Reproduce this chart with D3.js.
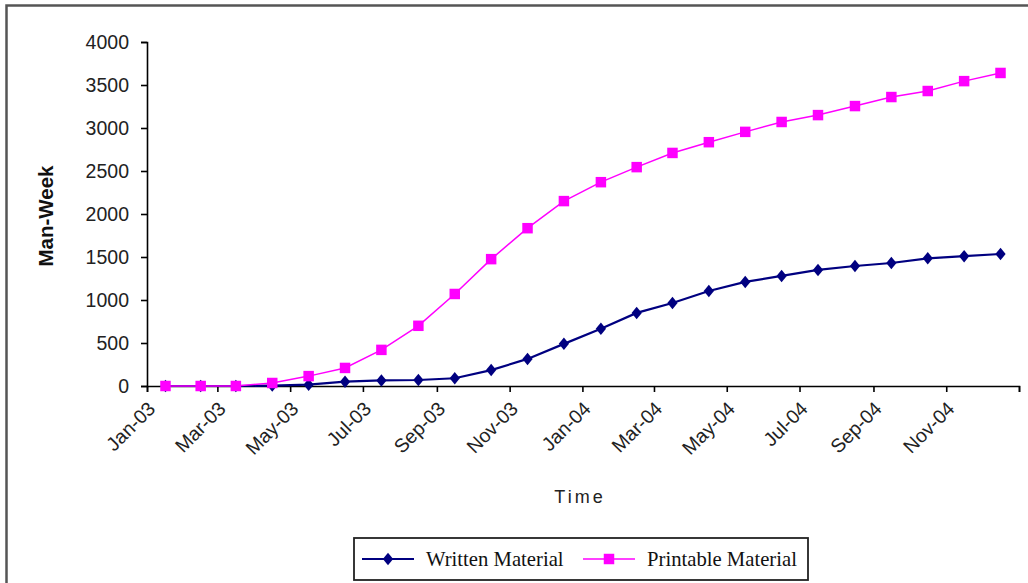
<!DOCTYPE html>
<html>
<head>
<meta charset="utf-8">
<script src="https://cdn.jsdelivr.net/npm/d3@7"></script>
<style>
  html, body { margin: 0; padding: 0; background: #fff; }
  svg { display: block; }
</style>
</head>
<body>
<svg id="chart" width="1028" height="583"></svg>
<script>
// Monthly cumulative effort, Jan 2003 – Dec 2004
const months = [
  "2003-01","2003-02","2003-03","2003-04","2003-05","2003-06",
  "2003-07","2003-08","2003-09","2003-10","2003-11","2003-12",
  "2004-01","2004-02","2004-03","2004-04","2004-05","2004-06",
  "2004-07","2004-08","2004-09","2004-10","2004-11","2004-12"
];
const writtenMaterial = [
  0, 0, 0, 5, 15, 50, 65, 70, 90, 185, 315, 490,
  665, 850, 965, 1105, 1210, 1280, 1350, 1395, 1430, 1485, 1510, 1535
];
const printableMaterial = [
  0, 0, 0, 35, 115, 210, 420, 700, 1070, 1475, 1835, 2150,
  2370, 2545, 2710, 2835, 2955, 3070, 3150, 3255, 3360, 3430, 3545, 3640
];
const yTicks = [0, 500, 1000, 1500, 2000, 2500, 3000, 3500, 4000];
const seriesNames = ["Written Material", "Printable Material"];

const svg = d3.select("#chart");
const parseMonth = d3.utcParse("%Y-%m");
const monthStarts = months.map(parseMonth);
// each point sits in the middle of its month
const midMonth = d => new Date((d.getTime() + d3.utcMonth.offset(d, 1).getTime()) / 2);

const x = d3.scaleUtc()
  .domain([monthStarts[0], d3.utcMonth.offset(monthStarts[monthStarts.length - 1], 1)])
  .range([147, 1019]);
const y = d3.scaleLinear().domain([0, 4000]).range([386, 42]);

// outer frame
svg.append("rect")
  .attr("x", 6.5).attr("y", 5.5)
  .attr("width", 1040).attr("height", 600)
  .attr("fill", "none").attr("stroke", "#555").attr("stroke-width", 2.5);

const axisFont = "'Liberation Sans', Arial, sans-serif";

// y axis
const yAxis = svg.append("g")
  .attr("transform", `translate(${x.range()[0]},0)`)
  .call(d3.axisLeft(y).tickValues(yTicks).tickSize(6).tickPadding(12).tickFormat(d3.format("d")));
yAxis.select(".domain").attr("stroke", "#000").attr("stroke-width", 1.6);
yAxis.selectAll(".tick line").attr("stroke", "#000").attr("stroke-width", 1.6);
yAxis.selectAll(".tick text")
  .attr("font-family", axisFont).attr("font-size", 19.5).attr("fill", "#222");

// x axis (date axis, labels every two months)
const xAxis = svg.append("g")
  .attr("transform", `translate(0,${y(0)})`)
  .call(d3.axisBottom(x).ticks(d3.utcMonth.every(2)).tickSize(6).tickFormat(d3.utcFormat("%b-%y")));
xAxis.select(".domain").attr("stroke", "#000").attr("stroke-width", 1.6);
xAxis.selectAll(".tick line").attr("stroke", "#000").attr("stroke-width", 1.6);
xAxis.selectAll(".tick text")
  .attr("font-family", axisFont).attr("font-size", 19.5).attr("fill", "#222")
  .attr("text-anchor", "end")
  .attr("x", 0).attr("y", 0).attr("dy", 0)
  .attr("transform", "translate(9,24) rotate(-45)")
  .filter(d => d >= x.domain()[1]).remove();

// axis titles
svg.append("text")
  .attr("transform", "translate(53,216) rotate(-90)")
  .attr("text-anchor", "middle")
  .attr("font-family", axisFont).attr("font-weight", "bold").attr("font-size", 20.5)
  .attr("fill", "#111")
  .text("Man-Week");
svg.append("text")
  .attr("x", 580).attr("y", 503)
  .attr("text-anchor", "middle")
  .attr("font-family", axisFont).attr("font-size", 18).attr("letter-spacing", 3)
  .attr("fill", "#222")
  .text("Time");

const series = [
  { name: seriesNames[0], values: writtenMaterial, color: "#000080", width: 2.2,
    symbol: d3.symbol().type(d3.symbolDiamond2).size(100), sx: 0.82 },
  { name: seriesNames[1], values: printableMaterial, color: "#FF00FF", width: 1.5,
    symbol: d3.symbol().type(d3.symbolSquare).size(110), sx: 1 }
];

const line = d3.line()
  .x((d, i) => x(midMonth(monthStarts[i])))
  .y(d => y(d));

series.forEach(s => {
  const g = svg.append("g");
  g.append("path")
    .datum(s.values)
    .attr("d", line)
    .attr("fill", "none")
    .attr("stroke", s.color)
    .attr("stroke-width", s.width);
  g.selectAll("path.mark")
    .data(s.values)
    .join("path")
    .attr("class", "mark")
    .attr("d", s.symbol)
    .attr("transform", (d, i) => `translate(${x(midMonth(monthStarts[i]))},${y(d)}) scale(${s.sx},1)`)
    .attr("fill", s.color);
});

// legend
const legend = svg.append("g").attr("transform", "translate(354,538)");
legend.append("rect")
  .attr("x", 0).attr("y", 0).attr("width", 454).attr("height", 42)
  .attr("fill", "#fff").attr("stroke", "#222").attr("stroke-width", 1.8);
const legendX = [8, 229];
series.forEach((s, i) => {
  const lg = legend.append("g").attr("transform", `translate(${legendX[i]},21)`);
  lg.append("line").attr("x1", 0).attr("x2", 52).attr("y1", 0).attr("y2", 0)
    .attr("stroke", s.color).attr("stroke-width", s.width);
  lg.append("path").attr("d", s.symbol)
    .attr("transform", `translate(26,0) scale(${s.sx},1)`).attr("fill", s.color);
  lg.append("text")
    .attr("x", 64).attr("y", 7)
    .attr("font-family", "'Liberation Serif', 'Times New Roman', serif")
    .attr("font-size", 20.7).attr("fill", "#111")
    .text(s.name);
});
</script>
</body>
</html>
